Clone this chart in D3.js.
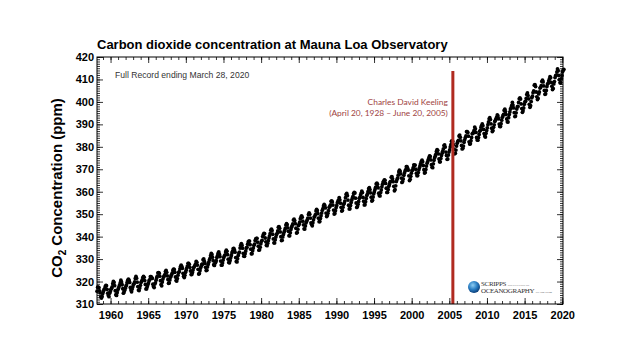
<!DOCTYPE html>
<html><head><meta charset="utf-8">
<script src="https://cdn.jsdelivr.net/npm/d3@7"></script>
<style>body{margin:0;background:#fff}svg{display:block}</style>
</head><body><svg id="c" width="640" height="360"></svg>
<script>
// ---- data (monthly mean CO2, ppm, starting March 1958) ----
const startYear = 1958;
const startMonth = 3;
const ppm = [
 315.70,317.45,317.51,317.24,315.86,314.93,313.20,312.66,313.33,314.67,
 315.62,316.38,316.71,317.72,318.29,318.15,316.54,314.80,313.84,313.26,314.80,315.58,
 316.43,316.97,317.58,319.02,320.03,319.59,318.18,315.91,314.16,313.83,315.00,316.19,
 316.93,317.70,318.54,319.48,320.58,319.77,318.57,316.79,314.80,315.38,316.10,317.01,
 317.94,318.55,319.68,320.57,321.02,320.62,319.61,317.40,316.25,315.42,316.69,317.70,
 318.74,319.07,319.86,321.38,322.25,321.48,319.74,317.77,316.21,315.99,317.12,318.31,
 319.57,320.07,320.73,321.77,322.25,321.89,320.44,318.70,316.70,316.79,317.79,318.71,
 319.44,320.44,320.89,322.13,322.16,321.87,321.39,318.81,317.81,317.30,318.87,319.42,
 320.62,321.59,322.39,323.87,324.01,323.75,322.39,320.37,318.64,318.10,319.79,321.08,
 322.07,322.50,323.04,324.42,325.00,324.09,322.54,320.92,319.25,319.39,320.73,321.96,
 322.57,323.15,323.89,325.02,325.57,325.36,324.14,322.03,320.41,320.25,321.31,322.84,
 324.00,324.42,325.64,326.66,327.34,326.76,325.88,323.67,322.38,321.78,322.85,324.11,
 325.03,325.99,326.87,328.13,328.07,327.66,326.35,324.69,323.10,323.16,323.98,325.13,
 326.17,326.68,327.18,327.78,328.92,328.57,327.34,325.46,323.36,323.57,324.80,326.01,
 326.77,327.63,327.75,329.72,330.07,329.09,328.05,326.32,324.93,325.06,326.50,327.55,
 328.54,329.56,330.30,331.50,332.48,332.07,330.87,329.31,327.51,327.18,328.16,328.64,
 329.35,330.71,331.48,332.65,333.20,332.16,331.07,329.12,327.32,327.28,328.30,329.58,
 330.73,331.46,331.90,333.17,333.94,333.45,331.97,329.95,328.50,328.34,329.37,330.58,
 331.59,332.75,333.52,334.64,334.77,334.00,333.06,330.68,328.95,328.75,330.15,331.62,
 332.66,333.13,334.95,336.13,336.93,336.17,334.88,332.56,331.29,331.27,332.41,333.60,
 334.95,335.25,336.66,337.69,338.03,338.01,336.41,334.41,332.37,332.41,333.75,334.90,
 336.14,336.69,338.27,338.95,339.21,339.26,337.54,335.75,333.98,334.19,335.31,336.81,
 337.90,338.34,340.01,340.93,341.48,341.33,339.40,337.70,336.19,335.98,337.10,338.21,
 339.44,340.36,341.40,342.88,343.38,342.68,341.07,338.99,337.23,337.18,338.56,339.80,
 340.89,341.49,342.52,344.23,344.46,343.71,342.09,339.96,338.26,338.41,339.87,340.99,
 341.91,342.72,343.62,345.14,345.78,345.33,343.92,342.38,340.41,340.38,341.77,343.23,
 344.21,344.92,345.68,347.39,347.78,347.16,345.79,343.74,341.59,341.86,343.31,345.00,
 345.48,346.41,347.91,348.66,349.28,348.65,346.90,345.26,343.47,343.35,344.73,346.12,
 346.78,347.48,348.25,349.86,350.52,349.98,348.25,346.17,345.48,344.82,346.22,347.48,
 348.73,348.92,349.81,351.40,352.15,351.58,350.21,348.20,346.66,346.72,348.08,349.28,
 350.51,351.70,352.50,353.67,354.35,353.88,352.80,350.49,348.97,349.37,350.42,351.62,
 353.07,353.43,354.08,355.72,355.95,355.44,354.05,351.84,350.09,350.33,351.55,352.91,
 353.86,355.10,355.75,356.38,357.38,356.39,354.89,353.06,351.38,351.69,353.14,354.41,
 354.93,355.82,357.33,358.77,359.23,358.23,356.30,353.97,352.34,352.43,353.89,355.21,
 356.34,357.21,357.97,359.22,359.71,359.43,357.15,354.99,353.01,353.41,354.42,355.68,
 357.10,357.42,358.59,359.39,360.30,359.64,357.46,355.76,354.14,354.23,355.53,357.03,
 358.36,359.04,360.11,361.36,361.78,360.94,359.51,357.59,355.86,356.21,357.65,359.10,
 360.04,361.00,361.98,363.44,363.83,363.33,361.78,359.33,358.32,358.14,359.61,360.82,
 362.20,363.36,364.28,364.69,365.25,365.06,363.69,361.55,359.69,359.72,361.04,362.39,
 363.24,364.21,364.65,366.49,366.77,365.73,364.46,362.40,360.44,360.98,362.65,364.51,
 365.39,366.10,367.36,368.79,369.56,369.13,367.98,366.10,364.16,364.54,365.67,367.30,
 368.35,369.28,369.84,371.15,371.12,370.46,369.61,367.06,364.95,365.52,366.88,368.26,
 369.45,369.71,370.75,371.98,371.75,371.87,370.02,368.27,367.15,367.18,368.53,369.83,
 370.76,371.69,372.63,373.55,374.03,373.40,371.68,369.78,368.34,368.61,369.94,371.42,
 372.70,373.37,374.30,375.19,375.93,375.69,374.16,372.03,370.92,370.73,372.43,373.98,
 375.07,375.82,376.64,377.92,378.78,378.46,376.88,374.57,373.34,373.31,374.84,376.17,
 377.17,378.05,379.06,380.54,380.80,379.87,377.65,376.17,374.43,374.63,376.33,377.68,
 378.63,379.91,380.95,382.48,382.64,382.40,380.93,378.93,376.89,377.19,378.54,380.31,
 381.58,382.40,382.86,384.80,385.22,384.24,382.65,380.60,379.04,379.33,380.35,382.02,
 383.10,384.12,384.81,386.73,386.78,386.33,384.73,382.24,381.20,381.37,382.70,384.19,
 385.78,386.06,386.28,387.33,388.78,388.00,386.39,384.15,383.07,382.98,384.11,385.54,
 386.92,387.41,388.77,389.46,390.18,389.43,387.74,385.91,384.77,384.38,385.99,387.26,
 388.45,389.82,391.08,392.46,393.00,392.12,390.24,388.26,386.83,387.22,388.68,389.79,
 391.33,391.86,392.60,393.25,394.19,393.73,392.51,390.13,389.08,389.00,390.28,391.86,
 393.12,393.86,394.40,396.18,396.74,395.71,394.36,392.39,391.11,391.05,392.98,394.34,
 395.55,396.80,397.43,398.41,399.78,398.60,397.32,395.20,393.45,393.70,395.16,396.84,
 397.85,398.01,399.77,401.38,401.78,401.25,399.10,397.03,395.38,396.03,397.28,398.91,
 399.98,400.28,401.54,403.28,403.96,402.80,401.31,398.93,397.63,398.29,400.16,401.85,
 402.56,404.12,404.87,407.45,407.72,406.83,404.41,402.27,401.05,401.59,403.55,404.45,
 406.17,406.46,407.22,409.04,409.69,408.88,407.12,405.13,403.37,403.63,405.12,406.81,
 407.96,408.32,409.41,410.24,411.24,410.79,408.71,406.99,405.51,406.00,408.02,409.07,
 410.83,411.75,411.97,413.32,414.66,413.92,411.77,409.95,408.54,408.53,410.27,411.76,
 413.40,414.11,414.51
];
const xTickYears = [1960,1965,1970,1975,1980,1985,1990,1995,2000,2005,2010,2015,2020];
const yTickValues = [310,320,330,340,350,360,370,380,390,400,410,420];
const titleText = "Carbon dioxide concentration at Mauna Loa Observatory";
const subtitleText = "Full Record ending March 28, 2020";
const keelingLines = ["Charles David Keeling", "(April 20, 1928 \u2013 June 20, 2005)"];
const keelingDeath = 2005.47;

// ---- layout ----
const svg = d3.select("#c");
const L = 97, R = 563, T = 57, B = 304;
const x = d3.scaleLinear().domain([1958.2, 2020.1]).range([L, R]);
const y = d3.scaleLinear().domain([310, 420]).range([B, T]);

const pts = ppm.map((v, i) => {
  const mIndex = (startMonth - 1) + i;
  return { t: startYear + mIndex / 12 + 1 / 24, v };
});

// data dots
svg.append("g").selectAll("circle").data(pts).join("circle")
  .attr("cx", d => x(d.t)).attr("cy", d => y(d.v))
  .attr("r", 1.9).attr("fill", "#000");

// Keeling line
svg.append("line")
  .attr("x1", x(keelingDeath)).attr("x2", x(keelingDeath))
  .attr("y1", 71).attr("y2", B)
  .attr("stroke", "#b02a20").attr("stroke-width", 3);

svg.append("g").selectAll("text").data(keelingLines).join("text")
  .attr("x", x(keelingDeath) - 5).attr("y", (d, i) => 104.5 + i * 11)
  .attr("text-anchor", "end")
  .attr("font-family", "Lato, 'Open Sans', sans-serif")
  .attr("font-size", 8.4).attr("fill", "#a0443f").text(d => d);

// axes
const fontAx = "'Liberation Sans', Arial, sans-serif";
const minorX = d3.range(1959, 2021);
const minorY = d3.range(310, 421);

function styleAxis(g) {
  g.selectAll("path").remove();
  g.selectAll("line").attr("stroke", "#000").attr("stroke-width", 0.8);
  g.selectAll("text").attr("font-family", fontAx).attr("font-weight", "bold")
    .attr("font-size", 11).attr("fill", "#000");
}

svg.append("g").attr("transform", `translate(0,${B})`)
  .call(d3.axisBottom(x).tickValues(minorX).tickSize(-3).tickFormat(""))
  .call(styleAxis);
svg.append("g").attr("transform", `translate(0,${B})`)
  .call(d3.axisBottom(x).tickValues(xTickYears).tickSize(-6).tickPadding(7).tickFormat(d3.format("d")))
  .call(styleAxis);
svg.append("g").attr("transform", `translate(0,${T})`)
  .call(d3.axisTop(x).tickValues(minorX).tickSize(-3).tickFormat(""))
  .call(styleAxis);
svg.append("g").attr("transform", `translate(0,${T})`)
  .call(d3.axisTop(x).tickValues(xTickYears).tickSize(-6).tickFormat(""))
  .call(styleAxis);

svg.append("g").attr("transform", `translate(${L},0)`)
  .call(d3.axisLeft(y).tickValues(minorY).tickSize(-3).tickFormat(""))
  .call(styleAxis);
svg.append("g").attr("transform", `translate(${L},0)`)
  .call(d3.axisLeft(y).tickValues(yTickValues).tickSize(-6).tickPadding(3).tickFormat(d3.format("d")))
  .call(styleAxis);
svg.append("g").attr("transform", `translate(${R},0)`)
  .call(d3.axisRight(y).tickValues(minorY).tickSize(-3).tickFormat(""))
  .call(styleAxis);
svg.append("g").attr("transform", `translate(${R},0)`)
  .call(d3.axisRight(y).tickValues(yTickValues).tickSize(-6).tickFormat(""))
  .call(styleAxis);

// frame
svg.append("rect").attr("x", L).attr("y", T).attr("width", R - L).attr("height", B - T)
  .attr("fill", "none").attr("stroke", "#000").attr("stroke-width", 1);

// title
const title = svg.append("text").attr("x", L).attr("y", 49)
  .attr("font-family", fontAx).attr("font-weight", "bold")
  .attr("font-size", 14).attr("fill", "#000").text(titleText);
const tw = title.node().getComputedTextLength();
title.attr("font-size", 14 * 351 / tw);

// subtitle
svg.append("text").attr("x", 115).attr("y", 78)
  .attr("font-family", fontAx).attr("font-size", 8.6).attr("fill", "#333")
  .text(subtitleText);

// y label
const yl = svg.append("text")
  .attr("transform", "translate(62,188) rotate(-90)")
  .attr("text-anchor", "middle")
  .attr("font-family", fontAx).attr("font-weight", "bold").attr("font-size", 15)
  .attr("fill", "#000");
yl.append("tspan").text("CO");
yl.append("tspan").attr("font-size", 10).attr("dy", 4).text("2");
yl.append("tspan").attr("dy", -4).text(" Concentration (ppm)");

// Scripps logo
const defs = svg.append("defs");
const grad = defs.append("radialGradient").attr("id", "lg").attr("cx", "40%").attr("cy", "35%").attr("r", "65%");
grad.append("stop").attr("offset", "0%").attr("stop-color", "#8ecdf2");
grad.append("stop").attr("offset", "55%").attr("stop-color", "#2b7fc4");
grad.append("stop").attr("offset", "100%").attr("stop-color", "#0b3f7a");
svg.append("circle").attr("cx", 474).attr("cy", 287).attr("r", 6).attr("fill", "url(#lg)");
const serif = "'Liberation Serif', 'DejaVu Serif', serif";
const s1 = svg.append("text").attr("x", 481).attr("y", 285.5).attr("font-family", serif)
  .attr("font-size", 7).attr("fill", "#333").attr("letter-spacing", -0.3).text("SCRIPPS");
const s1w = s1.node().getComputedTextLength();
svg.append("text").attr("x", 481 + s1w + 1.5).attr("y", 285.5).attr("font-family", serif)
  .attr("font-size", 2.8).attr("fill", "#555").text("INSTITUTION OF");
const s2 = svg.append("text").attr("x", 481).attr("y", 292.5).attr("font-family", serif)
  .attr("font-size", 7).attr("fill", "#333").attr("letter-spacing", -0.4).text("OCEANOGRAPHY");
const s2w = s2.node().getComputedTextLength();
svg.append("text").attr("x", 481 + s2w + 1.5).attr("y", 292.5).attr("font-family", serif)
  .attr("font-size", 2.8).attr("fill", "#555").text("UC San Diego");
</script></body></html>
